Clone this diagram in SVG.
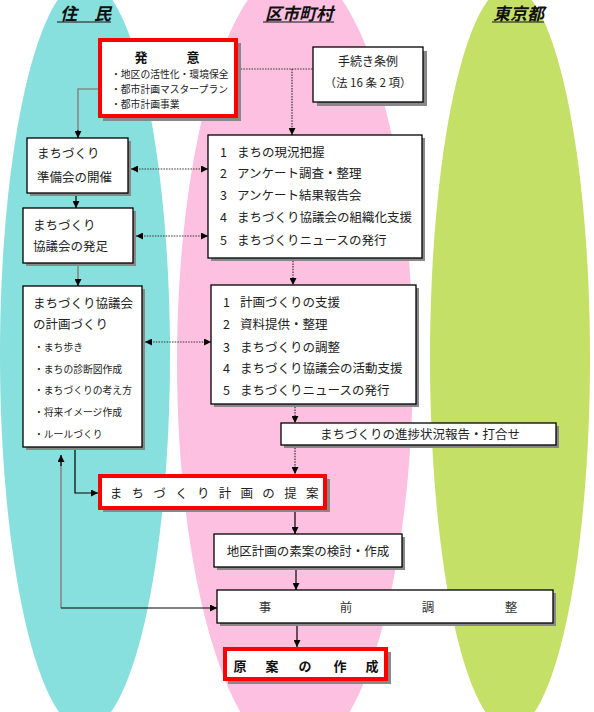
<svg xmlns="http://www.w3.org/2000/svg" width="594" height="712" viewBox="0 0 594 712">
<style>
text{font-family:"Noto Sans CJK JP","Noto Sans",sans-serif;fill:#222;}
.h{font-size:17px;font-weight:bold;font-style:italic;fill:#111;}
.t{font-size:12.5px;}
.s{font-size:9.8px;}
.b{fill:#fff;stroke:#000;stroke-width:1.3;}
.r{fill:#fff;stroke:#ff0000;stroke-width:4;}
.sh{fill:#888;}
.ln{fill:none;stroke:#000;stroke-width:1.2;}
.gl{fill:none;stroke:#888;stroke-width:1.6;}
.dt{fill:none;stroke:#333;stroke-width:1.2;stroke-dasharray:1.5 1.2;}
.ul{stroke:#111;stroke-width:1.2;}
</style>
<defs>
<marker id="a" viewBox="0 0 10 10" refX="10" refY="5" markerWidth="7" markerHeight="7" markerUnits="userSpaceOnUse" orient="auto-start-reverse">
<path d="M0,0 L10,5 L0,10 z" fill="#000"/>
</marker>
</defs>
<g id="bands">
<ellipse cx="85" cy="355" rx="85" ry="375" fill="#88e0de"/>
<ellipse cx="295" cy="362" rx="118" ry="395" fill="#fdc0e0"/>
<ellipse cx="510" cy="358" rx="80" ry="372" fill="#c5e067"/>
</g>
<g id="headings">
<text class="h" x="60" y="20">住　民</text>
<line class="ul" x1="57" y1="22" x2="111" y2="22"/>
<text class="h" x="265" y="20">区市町村</text>
<line class="ul" x1="263" y1="22" x2="334" y2="22"/>
<text class="h" x="493" y="20">東京都</text>
<line class="ul" x1="492" y1="22" x2="544" y2="22"/>
</g>
<g id="connectors">
<polyline class="gl" points="100,89 78,89 78,131"/>
<line class="ln" x1="78" y1="130" x2="78" y2="138" marker-end="url(#a)"/>
<line class="dt" x1="238" y1="69" x2="313" y2="69"/>
<line class="dt" x1="292" y1="69" x2="292" y2="135" marker-end="url(#a)"/>
<line class="ln" x1="76" y1="193" x2="76" y2="208" marker-end="url(#a)"/>
<line class="dt" x1="131" y1="169" x2="208" y2="169" marker-start="url(#a)" marker-end="url(#a)"/>
<line class="dt" x1="136" y1="236" x2="208" y2="236" marker-start="url(#a)" marker-end="url(#a)"/>
<line class="dt" x1="293" y1="258" x2="293" y2="285" marker-end="url(#a)"/>
<line class="gl" x1="78" y1="263" x2="78" y2="280"/>
<line class="ln" x1="78" y1="279" x2="78" y2="286" marker-end="url(#a)"/>
<line class="dt" x1="145" y1="342" x2="211" y2="342" marker-start="url(#a)" marker-end="url(#a)"/>
<line class="dt" x1="295" y1="404" x2="295" y2="423" marker-end="url(#a)"/>
<line class="dt" x1="295" y1="445" x2="295" y2="474" marker-end="url(#a)"/>
<polyline class="ln" points="75,447 75,493 98,493" marker-end="url(#a)"/>
<line class="ln" x1="295" y1="510" x2="295" y2="534" marker-end="url(#a)"/>
<line class="gl" x1="61" y1="608" x2="61" y2="462"/>
<line class="ln" x1="61" y1="466" x2="61" y2="455" marker-end="url(#a)"/>
<line class="ln" x1="61" y1="608" x2="217" y2="608" marker-end="url(#a)"/>
<line class="ln" x1="296" y1="567" x2="296" y2="590" marker-end="url(#a)"/>
<line class="ln" x1="297" y1="623" x2="297" y2="647" marker-end="url(#a)"/>
</g>
<g id="hatsui">
<rect class="sh" x="103" y="43" width="138" height="78"/>
<rect class="r" x="100" y="40" width="136" height="76"/>
<text x="141" y="62" font-size="13" font-weight="bold" text-anchor="middle" style="fill:#111">発</text>
<text x="193" y="62" font-size="13" font-weight="bold" text-anchor="middle" style="fill:#111">意</text>
<text class="s" x="111" y="77.5">・地区の活性化・環境保全</text>
<text class="s" x="111" y="92.5">・都市計画マスタープラン</text>
<text class="s" x="111" y="107.5">・都市計画事業</text>
</g>
<g id="jorei">
<rect class="sh" x="317" y="51" width="110" height="55"/>
<rect class="b" x="313" y="47" width="110" height="55"/>
<text x="368" y="66" font-size="12" text-anchor="middle">手続き条例</text>
<text x="368" y="87" font-size="11.5" text-anchor="middle">（法 16 条 2 項）</text>
</g>
<g id="junbi">
<rect class="sh" x="30" y="141" width="101" height="55"/>
<rect class="b" x="27" y="138" width="101" height="55"/>
<text class="t" x="37" y="157.5">まちづくり</text>
<text class="t" x="37" y="181.5">準備会の開催</text>
</g>
<g id="hossoku">
<rect class="sh" x="26" y="211" width="110" height="55"/>
<rect class="b" x="23" y="208" width="110" height="55"/>
<text class="t" x="33" y="229.5">まちづくり</text>
<text class="t" x="33" y="250.5">協議会の発足</text>
</g>
<g id="keikaku">
<rect class="sh" x="26" y="289" width="119" height="161"/>
<rect class="b" x="23" y="286" width="119" height="161"/>
<text class="t" x="33" y="307.5">まちづくり協議会</text>
<text class="t" x="33" y="328.5">の計画づくり</text>
<text class="s" x="34" y="350.5">・まち歩き</text>
<text class="s" x="34" y="372.5">・まちの診断図作成</text>
<text class="s" x="34" y="393.5">・まちづくりの考え方</text>
<text class="s" x="34" y="415.5">・将来イメージ作成</text>
<text class="s" x="34" y="437.5">・ルールづくり</text>
</g>
<g id="shien1">
<rect class="sh" x="211" y="138" width="214" height="123"/>
<rect class="b" x="208" y="135" width="214" height="123"/>
<text class="t" x="220" y="156.5">1</text><text class="t" x="237" y="156.5">まちの現況把握</text>
<text class="t" x="220" y="177.5">2</text><text class="t" x="237" y="177.5">アンケート調査・整理</text>
<text class="t" x="220" y="199.5">3</text><text class="t" x="237" y="199.5">アンケート結果報告会</text>
<text class="t" x="220" y="221.5">4</text><text class="t" x="237" y="221.5">まちづくり協議会の組織化支援</text>
<text class="t" x="220" y="244.5">5</text><text class="t" x="237" y="244.5">まちづくりニュースの発行</text>
</g>
<g id="shien2">
<rect class="sh" x="214" y="288" width="205" height="119"/>
<rect class="b" x="211" y="285" width="205" height="119"/>
<text class="t" x="223" y="306.5">1</text><text class="t" x="240" y="306.5">計画づくりの支援</text>
<text class="t" x="223" y="328.5">2</text><text class="t" x="240" y="328.5">資料提供・整理</text>
<text class="t" x="223" y="351.5">3</text><text class="t" x="240" y="351.5">まちづくりの調整</text>
<text class="t" x="223" y="372.5">4</text><text class="t" x="240" y="372.5">まちづくり協議会の活動支援</text>
<text class="t" x="223" y="394.5">5</text><text class="t" x="240" y="394.5">まちづくりニュースの発行</text>
</g>
<g id="shinchoku">
<rect class="sh" x="284" y="426" width="275" height="22"/>
<rect class="b" x="281" y="423" width="275" height="22"/>
<text class="t" x="420" y="439" text-anchor="middle">まちづくりの進捗状況報告・打合せ</text>
</g>
<g id="teian">
<rect class="sh" x="103" y="479" width="227" height="33"/>
<rect class="r" x="100" y="476" width="225" height="32"/>
<text class="t" x="116 137.8 159.6 181.4 203.2 225 246.8 268.6 290.4 312.2" y="497.5" text-anchor="middle">まちづくり計画の提案</text>
</g>
<g id="soan">
<rect class="sh" x="217" y="537" width="188" height="33"/>
<rect class="b" x="214" y="534" width="188" height="33"/>
<text class="t" x="308" y="555.5" text-anchor="middle">地区計画の素案の検討・作成</text>
</g>
<g id="jizen">
<rect class="sh" x="220" y="593" width="336" height="33"/>
<rect class="b" x="217" y="590" width="336" height="33"/>
<text class="t" x="265 346 428 511" y="611.5" text-anchor="middle" style="fill:#333">事前調整</text>
</g>
<g id="gen-an">
<rect class="sh" x="228" y="652" width="163" height="32"/>
<rect class="r" x="225" y="649" width="161" height="30"/>
<text x="240 272 305 340 372" y="670.5" font-size="13" font-weight="bold" text-anchor="middle" style="fill:#111">原案の作成</text>
</g>
</svg>
